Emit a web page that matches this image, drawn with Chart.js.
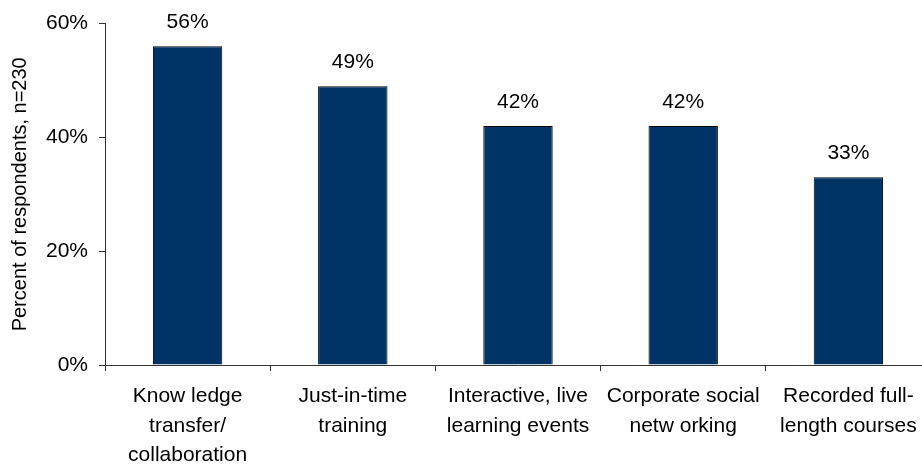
<!DOCTYPE html>
<html>
<head>
<meta charset="utf-8">
<script src="https://cdn.jsdelivr.net/npm/chart.js@4/dist/chart.umd.min.js"></script>
<style>
  html, body { margin: 0; padding: 0; background: #fff; overflow: hidden; }
  #wrap { width: 922px; height: 464px; overflow: hidden; position: relative; }
  canvas { display: block; }
</style>
</head>
<body>
<div id="wrap"><canvas id="c" width="932" height="464"></canvas></div>
<script>
// Survey: preferred learning approaches
const categories = [
  ["Know ledge", "transfer/", "collaboration"],
  ["Just-in-time", "training"],
  ["Interactive, live", "learning events"],
  ["Corporate social", "netw orking"],
  ["Recorded full-", "length courses"]
];
const shares = [56, 49, 42, 42, 33];
const yTicks = [0, 20, 40, 60];
const yTitle = "Percent of respondents, n=230";

const FONT = "'Liberation Sans', Arial, sans-serif";
const AXIS = "#333333";

// Percentage printed above each bar, positioned from the bar element itself
const valueLabels = {
  id: "valueLabels",
  afterDatasetsDraw(chart) {
    const ctx = chart.ctx;
    const meta = chart.getDatasetMeta(0);
    ctx.save();
    ctx.font = "21px " + FONT;
    ctx.fillStyle = "#000";
    ctx.textAlign = "center";
    ctx.textBaseline = "middle";
    meta.data.forEach((bar, i) => {
      ctx.fillText(shares[i] + "%", bar.x, bar.y - 24);
    });
    ctx.restore();
  }
};

new Chart(document.getElementById("c"), {
  type: "bar",
  data: {
    labels: categories,
    datasets: [{
      data: shares,
      backgroundColor: "#003366",
      borderColor: "#000000",
      borderWidth: 1,
      barPercentage: 0.42,
      categoryPercentage: 1.0
    }]
  },
  options: {
    responsive: false,
    animation: false,
    devicePixelRatio: 1,
    layout: { padding: { top: 22, right: 1, left: 0, bottom: 0 } },
    plugins: {
      legend: { display: false },
      tooltip: { enabled: false }
    },
    scales: {
      x: {
        grid: {
          display: true,
          drawOnChartArea: false,
          drawTicks: true,
          tickLength: 6,
          color: AXIS,
          offset: true
        },
        border: { display: true, color: AXIS, width: 1 },
        ticks: {
          font: { family: FONT, size: 21, lineHeight: 1.4 },
          color: "#000",
          padding: 11,
          maxRotation: 0,
          autoSkip: false
        },
        afterFit(scale) { scale.height = 99; }
      },
      y: {
        min: 0,
        max: 60,
        afterBuildTicks(scale) { scale.ticks = yTicks.map(v => ({ value: v })); },
        grid: {
          display: true,
          drawOnChartArea: false,
          drawTicks: true,
          tickLength: 6,
          color: AXIS
        },
        border: { display: true, color: AXIS, width: 1 },
        ticks: {
          font: { family: FONT, size: 21 },
          color: "#000",
          padding: 11,
          callback: v => v + "%"
        },
        title: {
          display: true,
          text: yTitle,
          font: { family: FONT, size: 20 },
          color: "#000",
          padding: { top: 8, bottom: 0 }
        },
        afterFit(scale) { scale.width = 105; }
      }
    }
  },
  plugins: [valueLabels]
});
</script>
</body>
</html>
